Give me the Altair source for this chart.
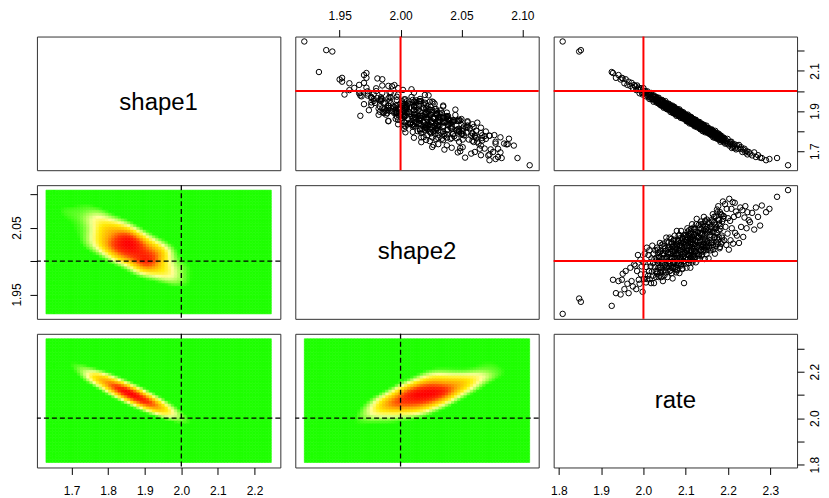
import altair as alt
import numpy as np
import pandas as pd

# ---- posterior samples: outer cloud ----
rate = [
    1.809, 1.848, 1.852, 1.925,
    1.928, 1.935, 1.941, 1.946, 1.949,
    1.951, 1.955, 1.958, 1.962, 1.965, 1.969, 1.972, 1.975, 1.978,
    1.981, 1.983, 1.985, 1.987, 1.989, 1.991, 1.993, 1.994, 1.996, 1.998, 2.000, 2.001, 2.003, 2.004, 2.006, 2.007, 2.008, 2.009,
    2.011, 2.012, 2.013, 2.014, 2.015, 2.016, 2.017, 2.018, 2.019, 2.020, 2.021, 2.022, 2.023, 2.024, 2.025, 2.026, 2.027, 2.028, 2.029, 2.030, 2.031, 2.032, 2.033, 2.034, 2.035, 2.036, 2.037, 2.038, 2.039, 2.040,
    2.041, 2.042, 2.043, 2.044, 2.045, 2.046, 2.047, 2.048, 2.049, 2.050, 2.050, 2.051, 2.052, 2.053, 2.054, 2.055, 2.056, 2.057, 2.058, 2.058, 2.059, 2.060, 2.061, 2.062, 2.062, 2.063, 2.064, 2.065, 2.065, 2.066, 2.066, 2.067, 2.067, 2.068, 2.068, 2.069, 2.069, 2.070,
    2.071, 2.071, 2.072, 2.073, 2.073, 2.074, 2.075, 2.075, 2.076, 2.077, 2.077, 2.078, 2.079, 2.079, 2.080, 2.081, 2.081, 2.082, 2.083, 2.083, 2.084, 2.085, 2.085, 2.086, 2.087, 2.087, 2.088, 2.089, 2.089, 2.090, 2.091, 2.091, 2.092, 2.093, 2.093, 2.094, 2.095, 2.095, 2.096, 2.097, 2.098, 2.099,
    2.100, 2.101, 2.101, 2.102, 2.103, 2.103, 2.104, 2.105, 2.105, 2.106, 2.107, 2.107, 2.108, 2.109, 2.109, 2.110, 2.111, 2.111, 2.112, 2.113, 2.113, 2.114, 2.115, 2.115, 2.116, 2.117, 2.117, 2.118, 2.119, 2.119, 2.120, 2.121, 2.121, 2.122, 2.123, 2.123, 2.124, 2.125, 2.126, 2.127, 2.128, 2.129,
    2.130, 2.131, 2.131, 2.132, 2.133, 2.134, 2.134, 2.135, 2.136, 2.137, 2.137, 2.138, 2.139, 2.140, 2.140, 2.141, 2.142, 2.143, 2.143, 2.144, 2.145, 2.146, 2.146, 2.147, 2.148, 2.149, 2.149, 2.150, 2.151, 2.152, 2.153, 2.154, 2.155, 2.156, 2.157, 2.159,
    2.160, 2.161, 2.162, 2.163, 2.164, 2.165, 2.166, 2.167, 2.168, 2.169, 2.170, 2.171, 2.172, 2.173, 2.174, 2.175, 2.176, 2.177, 2.178, 2.179, 2.180, 2.181, 2.182, 2.184, 2.185, 2.186, 2.188, 2.189,
    2.190, 2.191, 2.193, 2.194, 2.196, 2.197, 2.199, 2.200, 2.202, 2.203, 2.205, 2.206, 2.208, 2.209, 2.211, 2.212, 2.214, 2.216, 2.217, 2.219,
    2.221, 2.224, 2.226, 2.229, 2.231, 2.234, 2.236, 2.239, 2.241, 2.244, 2.246, 2.249,
    2.252, 2.257, 2.262, 2.266, 2.271, 2.276,
    2.280, 2.290, 2.298, 2.316, 2.342,
]

shape1 = [
    2.246, 2.196, 2.203, 2.094,
    2.089, 2.065, 2.079, 2.057, 2.065,
    2.062, 2.038, 2.058, 2.030, 2.046, 2.025, 2.040, 2.015, 2.029,
    2.023, 2.004, 2.027, 2.008, 2.016, 1.988, 2.005, 2.013, 1.992, 1.982, 2.014, 1.987, 1.991, 1.999, 1.973, 1.992, 1.980, 1.998,
    1.984, 1.970, 1.990, 1.960, 1.977, 1.982, 1.967, 1.990, 1.958, 1.968, 1.978, 1.959, 1.971, 1.946, 1.977, 1.958, 1.969, 1.949, 1.958, 1.970, 1.949, 1.941, 1.959, 1.954, 1.942, 1.966, 1.936, 1.951, 1.943, 1.954,
    1.949, 1.927, 1.943, 1.955, 1.928, 1.934, 1.947, 1.916, 1.937, 1.940, 1.925, 1.919, 1.949, 1.923, 1.927, 1.938, 1.909, 1.930, 1.914, 1.924, 1.908, 1.936, 1.916, 1.922, 1.906, 1.926, 1.895, 1.916, 1.926, 1.906, 1.903, 1.920, 1.912, 1.896, 1.927, 1.904, 1.914, 1.890,
    1.901, 1.916, 1.888, 1.908, 1.921, 1.892, 1.902, 1.887, 1.913, 1.896, 1.905, 1.876, 1.900, 1.907, 1.887, 1.889, 1.909, 1.880, 1.899, 1.875, 1.890, 1.908, 1.881, 1.876, 1.889, 1.898, 1.866, 1.889, 1.880, 1.896, 1.868, 1.883, 1.889, 1.869, 1.863, 1.894, 1.870, 1.881, 1.876, 1.883, 1.871, 1.861,
    1.878, 1.861, 1.881, 1.849, 1.868, 1.873, 1.853, 1.882, 1.860, 1.847, 1.866, 1.872, 1.851, 1.858, 1.838, 1.872, 1.851, 1.865, 1.841, 1.857, 1.870, 1.842, 1.849, 1.863, 1.834, 1.854, 1.849, 1.836, 1.860, 1.839, 1.855, 1.824, 1.846, 1.850, 1.837, 1.828, 1.856, 1.830, 1.842, 1.819, 1.846, 1.831,
    1.826, 1.843, 1.818, 1.833, 1.845, 1.818, 1.827, 1.809, 1.834, 1.828, 1.808, 1.836, 1.817, 1.827, 1.800, 1.828, 1.810, 1.817, 1.831, 1.804, 1.811, 1.823, 1.794, 1.817, 1.812, 1.796, 1.827, 1.802, 1.814, 1.791, 1.807, 1.794, 1.814, 1.797, 1.807, 1.786,
    1.800, 1.779, 1.808, 1.786, 1.798, 1.769, 1.788, 1.797, 1.777, 1.767, 1.801, 1.779, 1.787, 1.766, 1.780, 1.789, 1.765, 1.769, 1.787, 1.758, 1.770, 1.777, 1.747, 1.769, 1.775, 1.755, 1.762, 1.747,
    1.753, 1.766, 1.738, 1.758, 1.750, 1.738, 1.761, 1.738, 1.745, 1.728, 1.746, 1.735, 1.747, 1.716, 1.735, 1.721, 1.728, 1.734, 1.717, 1.709,
    1.729, 1.713, 1.731, 1.712, 1.720, 1.696, 1.708, 1.712, 1.694, 1.700, 1.684, 1.696,
    1.688, 1.679, 1.694, 1.671, 1.680, 1.668,
    1.666, 1.655, 1.661, 1.666, 1.630,
]

shape2 = [
    1.921, 1.944, 1.939, 1.933,
    1.972, 1.952, 1.970, 1.950, 1.972,
    1.981, 1.958, 1.985, 1.966, 1.952, 1.990, 1.970, 1.962, 1.995,
    1.993, 1.958, 1.985, 2.009, 1.972, 1.966, 2.002, 1.980, 1.992, 1.954, 1.998, 1.973, 2.011, 1.980, 1.968, 1.991, 2.020, 1.973,
    1.978, 2.009, 1.985, 2.016, 1.973, 1.998, 1.992, 1.967, 2.004, 1.984, 2.023, 1.978, 1.997, 2.011, 1.967, 2.003, 1.991, 2.016, 1.985, 1.976, 2.001, 2.020, 1.984, 1.997, 2.012, 1.976, 2.006, 1.991, 2.027, 1.983,
    2.015, 1.990, 1.976, 2.010, 2.003, 1.970, 2.026, 1.998, 2.010, 1.986, 2.022, 1.995, 2.015, 1.983, 2.035, 1.992, 2.005, 1.976, 2.019, 2.011, 2.000, 2.028, 1.992, 2.035, 1.996, 2.005, 1.986, 2.018, 2.011, 1.990, 2.033, 2.005, 1.982, 2.026, 2.015, 1.974, 2.021, 1.997,
    2.014, 1.990, 2.032, 1.998, 2.011, 2.038, 1.988, 2.021, 2.004, 1.983, 2.026, 2.018, 1.997, 2.045, 2.008, 2.030, 1.987, 2.012, 2.003, 2.038, 1.996, 2.023, 1.982, 2.017, 2.034, 2.006, 2.027, 1.995, 2.045, 2.013, 2.023, 2.002, 1.989, 2.033, 2.017, 2.007, 2.038, 2.000, 1.967, 2.029, 2.012, 2.013,
    2.003, 2.039, 2.022, 1.990, 2.031, 2.015, 2.049, 2.002, 2.027, 2.038, 2.010, 1.997, 2.046, 2.022, 2.008, 2.035, 1.990, 2.028, 2.041, 2.015, 2.032, 2.004, 2.055, 2.021, 1.998, 2.032, 2.026, 2.008, 2.050, 2.015, 2.040, 2.004, 2.025, 2.048, 2.013, 2.030, 1.998, 2.039, 2.063, 2.021, 2.035, 2.010,
    2.035, 2.008, 2.054, 2.023, 2.003, 2.042, 2.031, 2.016, 2.059, 2.021, 2.047, 2.008, 2.041, 2.032, 2.014, 2.055, 2.024, 2.066, 2.017, 2.038, 2.003, 2.052, 2.033, 2.022, 2.048, 2.010, 2.042, 2.062, 2.030, 2.017, 2.046, 2.004, 2.057, 2.027, 2.039, 2.051,
    2.027, 2.061, 2.020, 2.043, 2.070, 2.017, 2.050, 2.035, 2.058, 2.011, 2.048, 2.067, 2.028, 2.042, 2.077, 2.025, 2.062, 2.082, 2.036, 2.056, 2.019, 2.073, 2.048, 2.026, 2.069, 2.035, 2.089, 2.063,
    2.067, 2.031, 2.085, 2.051, 2.024, 2.078, 2.041, 2.064, 2.017, 2.093, 2.060, 2.031, 2.078, 2.049, 2.088, 2.026, 2.066, 2.087, 2.042, 2.074,
    2.038, 2.069, 2.027, 2.080, 2.051, 2.076, 2.036, 2.065, 2.082, 2.049, 2.073, 2.061,
    2.058, 2.072, 2.047, 2.080, 2.066, 2.053,
    2.083, 2.073, 2.078, 2.096, 2.106,
]

# ---- dense core of the same cloud ----
rate_core = [
    2.031, 2.032, 2.034, 2.035, 2.036, 2.038, 2.039, 2.040, 2.042, 2.043, 2.044, 2.046, 2.047, 2.048, 2.050, 2.051, 2.052, 2.054, 2.055, 2.056, 2.058, 2.059, 2.060, 2.062, 2.063, 2.064, 2.066, 2.067, 2.068, 2.069,
    2.070, 2.071, 2.072, 2.073, 2.074, 2.075, 2.076, 2.077, 2.078, 2.079, 2.080, 2.081, 2.082, 2.083, 2.084, 2.085, 2.086, 2.087, 2.088, 2.089, 2.090, 2.090, 2.091, 2.092, 2.093, 2.094, 2.095, 2.096, 2.097, 2.098, 2.099, 2.100, 2.100, 2.101, 2.102, 2.103, 2.104, 2.105, 2.105, 2.106, 2.107, 2.107, 2.108, 2.109, 2.109,
    2.110, 2.111, 2.111, 2.112, 2.113, 2.113, 2.114, 2.115, 2.116, 2.116, 2.117, 2.118, 2.119, 2.119, 2.120, 2.121, 2.122, 2.122, 2.123, 2.124, 2.125, 2.125, 2.126, 2.127, 2.128, 2.129, 2.130, 2.131, 2.132, 2.133, 2.134, 2.135, 2.136, 2.137, 2.138, 2.139, 2.140, 2.141, 2.142, 2.143, 2.144, 2.145, 2.146, 2.147, 2.148,
    2.150, 2.151, 2.153, 2.154, 2.155, 2.157, 2.158, 2.159, 2.161, 2.162, 2.163, 2.165, 2.166, 2.167, 2.169, 2.170, 2.171, 2.173, 2.174, 2.175, 2.177, 2.178, 2.179, 2.181, 2.182, 2.183, 2.185, 2.186, 2.187, 2.189,
]
shape1_core = [
    1.948, 1.964, 1.949, 1.963, 1.938, 1.950, 1.953, 1.930, 1.942, 1.946, 1.930, 1.951, 1.931, 1.922, 1.940, 1.933, 1.923, 1.937, 1.910, 1.926, 1.928, 1.910, 1.933, 1.913, 1.907, 1.926, 1.910, 1.915, 1.896, 1.916,
    1.911, 1.897, 1.916, 1.899, 1.890, 1.907, 1.901, 1.883, 1.905, 1.890, 1.907, 1.891, 1.882, 1.894, 1.899, 1.875, 1.892, 1.881, 1.899, 1.875, 1.882, 1.871, 1.888, 1.882, 1.864, 1.887, 1.869, 1.888, 1.870, 1.862, 1.875, 1.881, 1.861, 1.867, 1.851, 1.872, 1.867, 1.851, 1.871, 1.857, 1.873, 1.854, 1.861, 1.847, 1.865,
    1.850, 1.866, 1.852, 1.862, 1.839, 1.857, 1.865, 1.841, 1.851, 1.844, 1.857, 1.832, 1.851, 1.844, 1.856, 1.834, 1.844, 1.830, 1.855, 1.835, 1.844, 1.825, 1.837, 1.844, 1.827, 1.845, 1.829, 1.820, 1.835, 1.831, 1.811, 1.836, 1.819, 1.830, 1.812, 1.822, 1.833, 1.811, 1.813, 1.825, 1.802, 1.817, 1.820, 1.802, 1.810,
    1.814, 1.800, 1.814, 1.791, 1.803, 1.784, 1.802, 1.796, 1.784, 1.805, 1.787, 1.796, 1.774, 1.790, 1.776, 1.792, 1.779, 1.784, 1.762, 1.777, 1.782, 1.764, 1.774, 1.756, 1.779, 1.761, 1.768, 1.752, 1.761, 1.765,
]
shape2_core = [
    2.005, 1.981, 2.017, 1.990, 2.000, 1.978, 2.013, 2.005, 1.987, 2.024, 1.997, 1.984, 2.012, 2.004, 1.979, 2.019, 1.994, 2.003, 2.029, 1.990, 2.013, 1.999, 2.021, 1.985, 2.011, 1.996, 2.028, 2.003, 2.021, 1.990,
    1.999, 2.023, 2.005, 2.030, 1.997, 2.015, 1.991, 2.020, 2.011, 1.986, 2.024, 2.005, 2.030, 1.997, 2.016, 2.039, 2.004, 2.024, 1.993, 2.016, 2.030, 2.003, 2.021, 1.988, 2.035, 2.011, 2.027, 1.999, 2.021, 2.039, 2.004, 2.025, 1.996, 2.031, 2.016, 2.036, 2.011, 2.044, 2.003, 2.022, 2.009, 2.040, 2.015, 2.031, 2.001,
    2.032, 2.012, 2.041, 2.006, 2.026, 2.048, 2.016, 2.036, 2.001, 2.025, 2.031, 2.010, 2.047, 2.019, 2.039, 2.006, 2.031, 2.022, 2.043, 2.015, 2.055, 2.011, 2.029, 2.037, 2.003, 2.043, 2.020, 2.035, 2.010, 2.050, 2.029, 2.016, 2.055, 2.024, 2.042, 2.010, 2.040, 2.022, 2.051, 2.028, 2.046, 2.020, 2.060, 2.031, 2.016,
    2.021, 2.051, 2.029, 2.059, 2.020, 2.043, 2.016, 2.048, 2.038, 2.028, 2.059, 2.024, 2.044, 2.066, 2.036, 2.054, 2.022, 2.050, 2.034, 2.073, 2.031, 2.046, 2.061, 2.021, 2.052, 2.070, 2.038, 2.059, 2.029, 2.067,
]

names = ["shape1", "shape2", "rate"]
true_value = [2.0]
tick_values = {
    "shape1": [1.7, 1.8, 1.9, 2.0, 2.1, 2.2],
    "shape2": [1.95, 2.00, 2.05, 2.10],
    "rate": [1.8, 1.9, 2.0, 2.1, 2.2, 2.3],
}
tick_format = {"shape1": ".1f", "shape2": ".2f", "rate": ".1f"}
side_labels = {"shape1": ["1.7", "1.9", "2.1"], "shape2": ["1.95", "2.05"], "rate": ["1.8", "2.0", "2.2"]}

heat_domain = [0.0, 0.15, 0.27, 0.36, 0.50, 0.68, 0.85, 1.0]
heat_colors = ["#1FFF00", "#1FFF00", "#A8FF50", "#FFFF99", "#FFEE00", "#FFA500", "#FF3A00", "#FF0000"]

# ---- derived ----
def combine(a, b):
    m = min(len(a[0]), len(a[1]), len(a[2]))
    k = min(len(b[0]), len(b[1]), len(b[2]))
    return [np.array(list(a[t][:m]) + list(b[t][:k])) for t in range(3)]


s1_all, s2_all, r_all = combine((shape1, shape2, rate), (shape1_core, shape2_core, rate_core))
samples = {"shape1": s1_all, "shape2": s2_all, "rate": r_all}


def padded(v):
    lo, hi = float(v.min()), float(v.max())
    r = hi - lo
    return [lo - 0.04 * r, hi + 0.04 * r]


domains = {k: padded(v) for k, v in samples.items()}

W, H = 244, 134
FONT = "Liberation Sans"
heat_scale = alt.Scale(domain=heat_domain, range=heat_colors, interpolate="rgb")


def label_expr(var):
    arr = ",".join("'%s'" % s for s in side_labels[var])
    return "indexof([%s], datum.label) >= 0 ? datum.label : ''" % arr


def x_axis(i, j):
    var = names[j]
    common = dict(values=tick_values[var], format=tick_format[var], title=None,
                  labelFlush=False, labelOverlap=False)
    if i == 0 and j == 1:
        return alt.Axis(orient="top", labelPadding=7, **common)
    if i == 2 and j in (0, 2):
        return alt.Axis(orient="bottom", labelPadding=11, **common)
    return None


def y_axis(i, j):
    var = names[i]
    common = dict(values=tick_values[var], format=tick_format[var], title=None,
                  labelFlush=False, labelOverlap=False, labelAngle=270,
                  labelAlign="center", labelExpr=label_expr(var))
    if j == 0 and i == 1:
        return alt.Axis(orient="left", labelBaseline="bottom", labelPadding=6, **common)
    if j == 2 and i in (0, 2):
        return alt.Axis(orient="right", labelBaseline="top", labelPadding=5.5, **common)
    return None


def X(field, i, j):
    return alt.X(field, scale=alt.Scale(domain=domains[names[j]], nice=False, zero=False),
                 axis=x_axis(i, j), title=None)


def Y(field, i, j):
    return alt.Y(field, scale=alt.Scale(domain=domains[names[i]], nice=False, zero=False),
                 axis=y_axis(i, j), title=None)


def kde_cells(xv, yv, nx=72, ny=44, bw=0.28):
    a, b = samples[xv], samples[yv]
    xe = np.linspace(a.min(), a.max(), nx + 1)
    ye = np.linspace(b.min(), b.max(), ny + 1)
    xc = 0.5 * (xe[:-1] + xe[1:])
    yc = 0.5 * (ye[:-1] + ye[1:])
    ha, hb = bw * a.std(ddof=1), bw * b.std(ddof=1)
    kx = np.exp(-0.5 * ((xc[:, None] - a[None, :]) / ha) ** 2)
    ky = np.exp(-0.5 * ((yc[:, None] - b[None, :]) / hb) ** 2)
    dens = kx @ ky.T
    dens = dens / dens.max()
    ii, jj = np.meshgrid(np.arange(nx), np.arange(ny), indexing="ij")
    ii, jj = ii.ravel(), jj.ravel()
    return pd.DataFrame({
        "x": xe[ii], "x2": xe[ii + 1], "y": ye[jj], "y2": ye[jj + 1],
        "d": np.round(dens[ii, jj], 4),
    })


rule_df = pd.DataFrame({"v": true_value})
panels = []
for i in range(3):
    for j in range(3):
        if i == j:
            var = names[i]
            df = pd.DataFrame({"x": [sum(domains[var]) / 2], "y": [sum(domains[var]) / 2], "label": [var]})
            p = alt.Chart(df).mark_text(fontSize=24, font=FONT, color="black", align="center",
                                        baseline="middle").encode(
                x=X("x:Q", i, j), y=Y("y:Q", i, j), text="label:N")
        elif i < j:
            df = pd.DataFrame({"x": samples[names[j]], "y": samples[names[i]]})
            pts = alt.Chart(df).mark_point(shape="circle", filled=False, size=30, strokeWidth=1,
                                           color="black", opacity=1).encode(
                x=X("x:Q", i, j), y=Y("y:Q", i, j))
            vl = alt.Chart(rule_df).mark_rule(color="#FF0000", strokeWidth=2).encode(x=X("v:Q", i, j))
            hl = alt.Chart(rule_df).mark_rule(color="#FF0000", strokeWidth=2).encode(y=Y("v:Q", i, j))
            p = alt.layer(pts, vl, hl)
        else:
            cells = kde_cells(names[j], names[i])
            img = alt.Chart(cells).mark_rect(strokeWidth=0.6).encode(
                x=X("x:Q", i, j), x2="x2", y=Y("y:Q", i, j), y2="y2",
                fill=alt.Fill("d:Q", scale=heat_scale, legend=None),
                stroke=alt.Stroke("d:Q", scale=heat_scale, legend=None))
            vl = alt.Chart(rule_df).mark_rule(color="black", strokeWidth=1.3, strokeDash=[5, 3]).encode(
                x=X("v:Q", i, j))
            hl = alt.Chart(rule_df).mark_rule(color="black", strokeWidth=1.3, strokeDash=[5, 3]).encode(
                y=Y("v:Q", i, j))
            p = alt.layer(img, vl, hl)
        panels.append(p.properties(width=W, height=H))

chart = alt.concat(*panels, columns=3, spacing=15, bounds="flush").properties(
    padding={"left": 2, "top": 0, "right": 0, "bottom": 0}
).configure_view(stroke="#333333", strokeWidth=1).configure_axis(
    labelFont=FONT, labelFontSize=12, labelColor="#000000", tickColor="#000000",
    tickSize=7, tickWidth=1, domain=False, grid=False
)

chart.save("out.html", embed_options={"renderer": "svg", "actions": False})
